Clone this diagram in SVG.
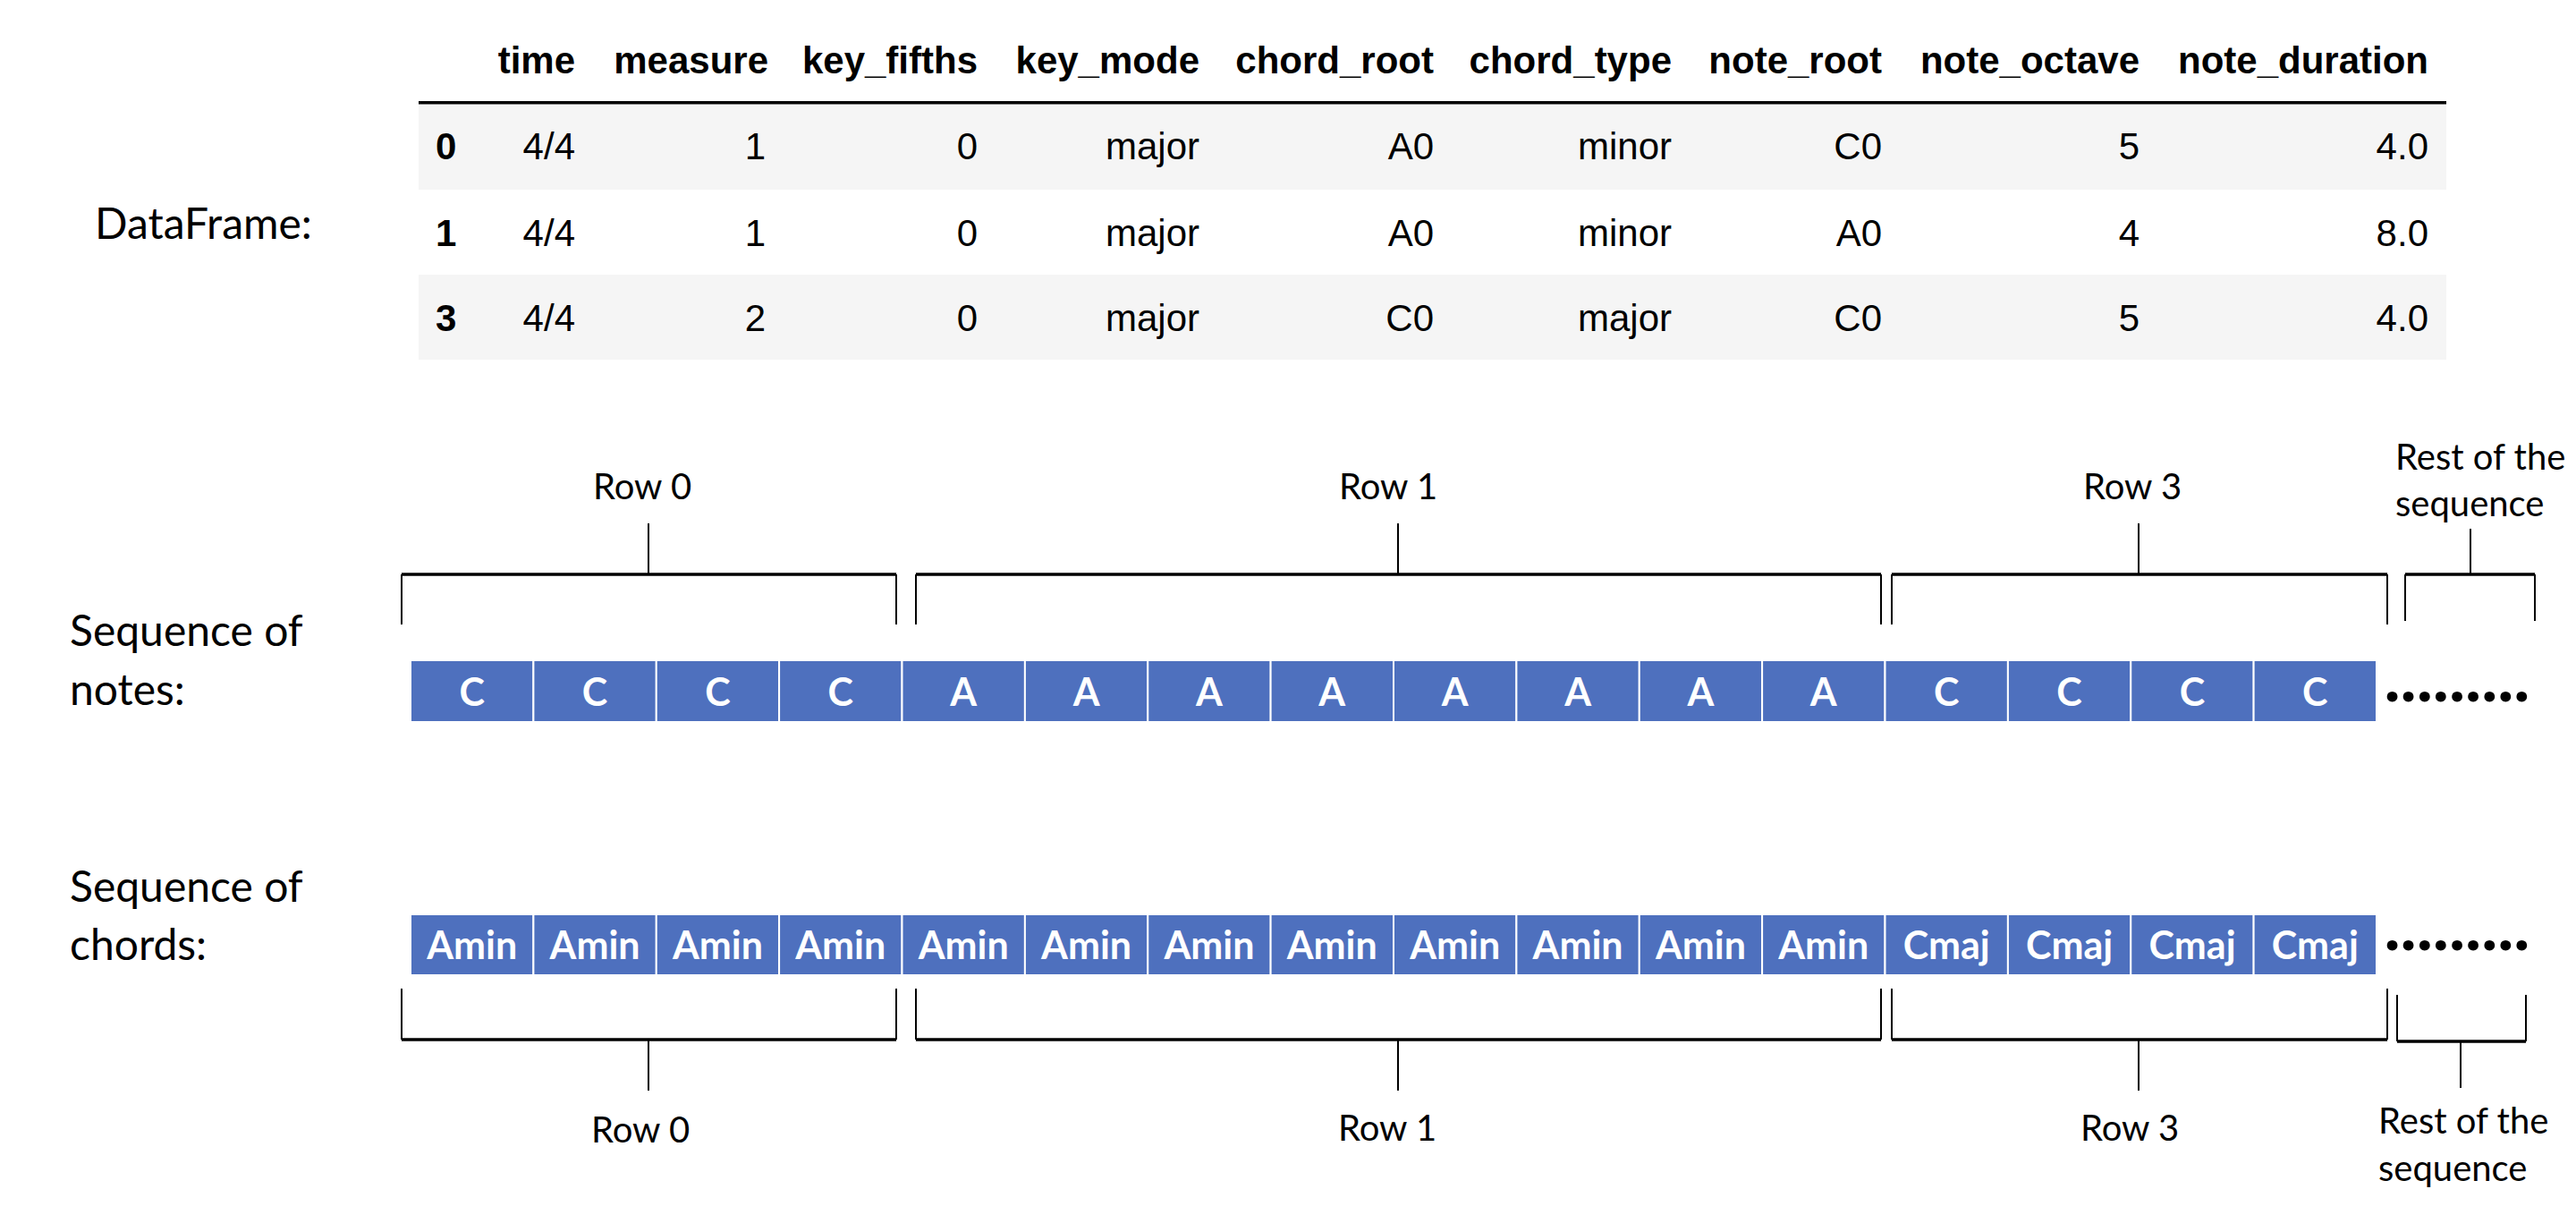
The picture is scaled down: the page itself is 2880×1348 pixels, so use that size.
<svg xmlns="http://www.w3.org/2000/svg" width="2880" height="1348" viewBox="0 0 2880 1348">
<style>
.th{font-family:"Liberation Sans",Arial,sans-serif;font-size:42px;font-weight:bold;fill:#000;text-anchor:end}
.td{font-family:"Liberation Sans",Arial,sans-serif;font-size:42px;fill:#000;text-anchor:end}
.ix{font-family:"Liberation Sans",Arial,sans-serif;font-size:42px;font-weight:bold;fill:#000}
.lbl{font-family:Lato,"Open Sans",sans-serif;font-size:48px;fill:#000}
.row{font-family:Lato,"Open Sans",sans-serif;font-size:40px;fill:#000}
.rowc{font-family:Lato,"Open Sans",sans-serif;font-size:40px;fill:#000;text-anchor:middle}
.box{fill:#4E70BE;stroke:#fff;stroke-width:2}
.bt{font-family:Lato,"Open Sans",sans-serif;font-size:43px;font-weight:bold;fill:#fff;text-anchor:middle}
.dots{font-family:Lato,"Open Sans",sans-serif;font-size:72px;font-weight:900;fill:#000}
.br{fill:none;stroke:#000;stroke-width:2}
.bh{fill:none;stroke:#000;stroke-width:3.5}
</style>
<rect width="2880" height="1348" fill="#fff"/>

<g id="dataframe-label"><text class="lbl" x="106" y="267">DataFrame:</text></g>

<g id="table">
<rect x="468" y="117" width="2267" height="95" fill="#f5f5f5"/>
<rect x="468" y="307" width="2267" height="95" fill="#f5f5f5"/>
<rect x="468" y="113" width="2267" height="3.5" fill="#000"/>
<text class="th" x="643" y="82">time</text>
<text class="th" x="859" y="82">measure</text>
<text class="th" x="1093" y="82">key_fifths</text>
<text class="th" x="1341" y="82">key_mode</text>
<text class="th" x="1603" y="82">chord_root</text>
<text class="th" x="1869" y="82">chord_type</text>
<text class="th" x="2104" y="82">note_root</text>
<text class="th" x="2392" y="82">note_octave</text>
<text class="th" x="2715" y="82">note_duration</text>

<text class="ix" x="487" y="178">0</text>
<text class="td" x="643" y="178">4/4</text>
<text class="td" x="856" y="178">1</text>
<text class="td" x="1093" y="178">0</text>
<text class="td" x="1341" y="178">major</text>
<text class="td" x="1603" y="178">A0</text>
<text class="td" x="1869" y="178">minor</text>
<text class="td" x="2104" y="178">C0</text>
<text class="td" x="2392" y="178">5</text>
<text class="td" x="2715" y="178">4.0</text>

<text class="ix" x="487" y="275">1</text>
<text class="td" x="643" y="275">4/4</text>
<text class="td" x="856" y="275">1</text>
<text class="td" x="1093" y="275">0</text>
<text class="td" x="1341" y="275">major</text>
<text class="td" x="1603" y="275">A0</text>
<text class="td" x="1869" y="275">minor</text>
<text class="td" x="2104" y="275">A0</text>
<text class="td" x="2392" y="275">4</text>
<text class="td" x="2715" y="275">8.0</text>

<text class="ix" x="487" y="370">3</text>
<text class="td" x="643" y="370">4/4</text>
<text class="td" x="856" y="370">2</text>
<text class="td" x="1093" y="370">0</text>
<text class="td" x="1341" y="370">major</text>
<text class="td" x="1603" y="370">C0</text>
<text class="td" x="1869" y="370">major</text>
<text class="td" x="2104" y="370">C0</text>
<text class="td" x="2392" y="370">5</text>
<text class="td" x="2715" y="370">4.0</text>
</g>

<g id="notes-label"><text class="lbl" x="78" y="722">Sequence of</text><text class="lbl" x="78" y="788">notes:</text></g>
<g id="chords-label"><text class="lbl" x="78" y="1008">Sequence of</text><text class="lbl" x="78" y="1073">chords:</text></g>

<g id="notes-sequence">
<rect class="box" x="459" y="738" width="137.4" height="69"/>
<rect class="box" x="596.4" y="738" width="137.4" height="69"/>
<rect class="box" x="733.75" y="738" width="137.4" height="69"/>
<rect class="box" x="871.1" y="738" width="137.4" height="69"/>
<rect class="box" x="1008.5" y="738" width="137.4" height="69"/>
<rect class="box" x="1145.9" y="738" width="137.4" height="69"/>
<rect class="box" x="1283.25" y="738" width="137.4" height="69"/>
<rect class="box" x="1420.6" y="738" width="137.4" height="69"/>
<rect class="box" x="1558" y="738" width="137.4" height="69"/>
<rect class="box" x="1695.4" y="738" width="137.4" height="69"/>
<rect class="box" x="1832.75" y="738" width="137.4" height="69"/>
<rect class="box" x="1970.1" y="738" width="137.4" height="69"/>
<rect class="box" x="2107.5" y="738" width="137.4" height="69"/>
<rect class="box" x="2244.9" y="738" width="137.4" height="69"/>
<rect class="box" x="2382.25" y="738" width="137.4" height="69"/>
<rect class="box" x="2519.6" y="738" width="137.4" height="69"/>
<text class="bt" x="527.7" y="789">C</text>
<text class="bt" x="665.1" y="789">C</text>
<text class="bt" x="802.4" y="789">C</text>
<text class="bt" x="939.8" y="789">C</text>
<text class="bt" x="1077.2" y="789">A</text>
<text class="bt" x="1214.6" y="789">A</text>
<text class="bt" x="1352" y="789">A</text>
<text class="bt" x="1489.3" y="789">A</text>
<text class="bt" x="1626.7" y="789">A</text>
<text class="bt" x="1764.1" y="789">A</text>
<text class="bt" x="1901.5" y="789">A</text>
<text class="bt" x="2038.8" y="789">A</text>
<text class="bt" x="2176.2" y="789">C</text>
<text class="bt" x="2313.6" y="789">C</text>
<text class="bt" x="2451" y="789">C</text>
<text class="bt" x="2588.3" y="789">C</text>
<text class="dots" x="2666" y="784" textLength="162" lengthAdjust="spacing">.........</text>
</g>

<g id="chords-sequence">
<rect class="box" x="459" y="1022" width="137.4" height="68"/>
<rect class="box" x="596.4" y="1022" width="137.4" height="68"/>
<rect class="box" x="733.75" y="1022" width="137.4" height="68"/>
<rect class="box" x="871.1" y="1022" width="137.4" height="68"/>
<rect class="box" x="1008.5" y="1022" width="137.4" height="68"/>
<rect class="box" x="1145.9" y="1022" width="137.4" height="68"/>
<rect class="box" x="1283.25" y="1022" width="137.4" height="68"/>
<rect class="box" x="1420.6" y="1022" width="137.4" height="68"/>
<rect class="box" x="1558" y="1022" width="137.4" height="68"/>
<rect class="box" x="1695.4" y="1022" width="137.4" height="68"/>
<rect class="box" x="1832.75" y="1022" width="137.4" height="68"/>
<rect class="box" x="1970.1" y="1022" width="137.4" height="68"/>
<rect class="box" x="2107.5" y="1022" width="137.4" height="68"/>
<rect class="box" x="2244.9" y="1022" width="137.4" height="68"/>
<rect class="box" x="2382.25" y="1022" width="137.4" height="68"/>
<rect class="box" x="2519.6" y="1022" width="137.4" height="68"/>
<text class="bt" x="527.7" y="1072">Amin</text>
<text class="bt" x="665.1" y="1072">Amin</text>
<text class="bt" x="802.4" y="1072">Amin</text>
<text class="bt" x="939.8" y="1072">Amin</text>
<text class="bt" x="1077.2" y="1072">Amin</text>
<text class="bt" x="1214.6" y="1072">Amin</text>
<text class="bt" x="1352" y="1072">Amin</text>
<text class="bt" x="1489.3" y="1072">Amin</text>
<text class="bt" x="1626.7" y="1072">Amin</text>
<text class="bt" x="1764.1" y="1072">Amin</text>
<text class="bt" x="1901.5" y="1072">Amin</text>
<text class="bt" x="2038.8" y="1072">Amin</text>
<text class="bt" x="2176.2" y="1072">Cmaj</text>
<text class="bt" x="2313.6" y="1072">Cmaj</text>
<text class="bt" x="2451" y="1072">Cmaj</text>
<text class="bt" x="2588.3" y="1072">Cmaj</text>
<text class="dots" x="2666" y="1062" textLength="162" lengthAdjust="spacing">.........</text>
</g>

<g id="top-labels">
<text class="rowc" x="718" y="558">Row 0</text>
<text class="rowc" x="1552" y="558">Row 1</text>
<text class="rowc" x="2384" y="558">Row 3</text>
<text class="row" x="2678" y="525">Rest of the</text>
<text class="row" x="2678" y="577">sequence</text>
</g>
<g id="bottom-labels">
<text class="rowc" x="716" y="1277">Row 0</text>
<text class="rowc" x="1551" y="1275">Row 1</text>
<text class="rowc" x="2381" y="1275">Row 3</text>
<text class="row" x="2659" y="1267">Rest of the</text>
<text class="row" x="2659" y="1320">sequence</text>
</g>

<g id="connectors">
<path class="br" d="M449,698V642M1002,698V642M725,642V585"/><path class="bh" d="M449,642H1002"/>
<path class="br" d="M1024,698V642M2103,698V642M1563,642V585"/><path class="bh" d="M1024,642H2103"/>
<path class="br" d="M2115,698V642M2669,698V642M2391,642V585"/><path class="bh" d="M2115,642H2669"/>
<path class="br" d="M2689,694V642M2834,694V642M2762,642V591"/><path class="bh" d="M2689,642H2834"/>

<path class="br" d="M449,1105V1162M1002,1105V1162M725,1162V1219"/><path class="bh" d="M449,1162H1002"/>
<path class="br" d="M1024,1105V1162M2103,1105V1162M1563,1162V1219"/><path class="bh" d="M1024,1162H2103"/>
<path class="br" d="M2115,1105V1162M2669,1105V1162M2391,1162V1219"/><path class="bh" d="M2115,1162H2669"/>
<path class="br" d="M2680,1112V1164M2824,1112V1164M2751,1164V1216"/><path class="bh" d="M2680,1164H2824"/>
</g>
</svg>
